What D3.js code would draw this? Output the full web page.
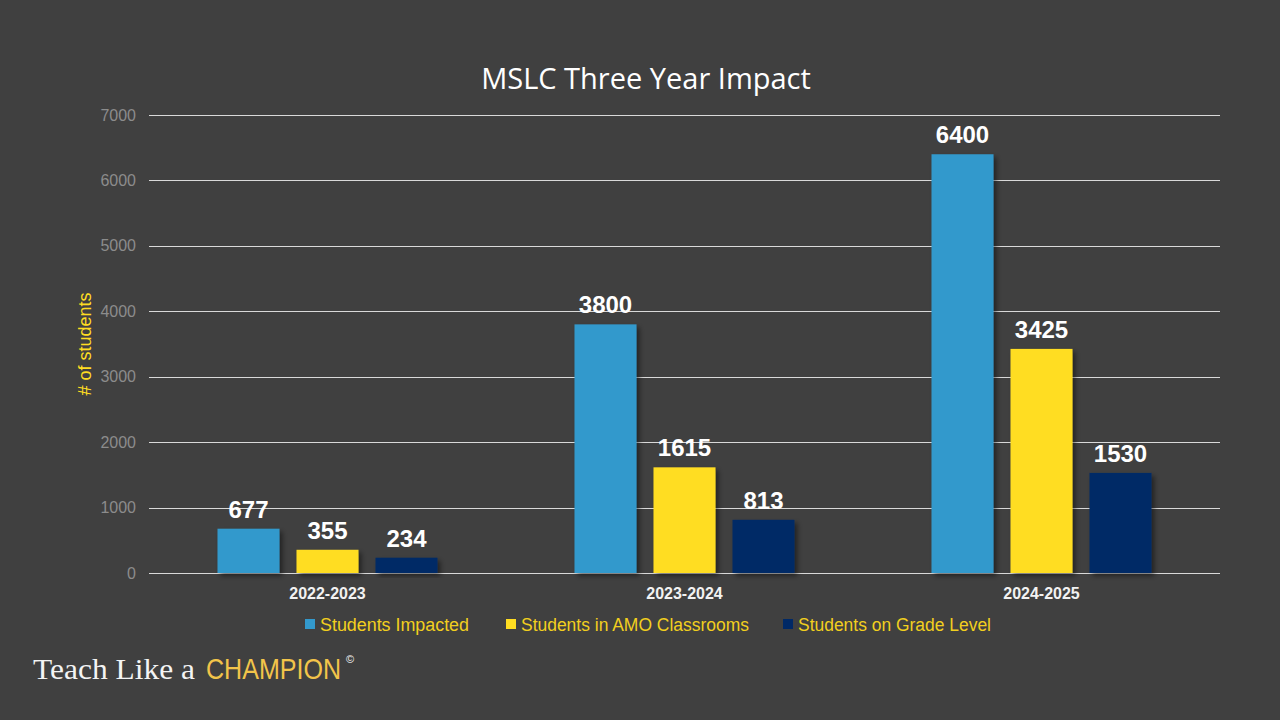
<!DOCTYPE html>
<html>
<head>
<meta charset="utf-8">
<script src="https://cdn.jsdelivr.net/npm/d3@7"></script>
<style>
  html, body { margin: 0; padding: 0; background: #404040; }
  svg { display: block; }
</style>
</head>
<body>
<div class="svg-container"></div>
<script>
// Data
const years = ['2022-2023', '2023-2024', '2024-2025'];
const seriesNames = ['Students Impacted', 'Students in AMO Classrooms', 'Students on Grade Level'];
const impacted = [677, 3800, 6400];
const amo = [355, 1615, 3425];
const gradeLevel = [234, 813, 1530];
const yTicks = [0, 1000, 2000, 3000, 4000, 5000, 6000, 7000];
const colors = ['#3399CC', '#FFDD22', '#002966'];

const W = 1280, H = 720;
const margin = {top: 115, right: 60, bottom: 147, left: 149};
const width = W - margin.left - margin.right;
const height = H - margin.top - margin.bottom;

const svg = d3.select('.svg-container')
    .append('svg')
    .attr('width', W)
    .attr('height', H);

svg.append('rect').attr('width', W).attr('height', H).attr('fill', '#404040');

const defs = svg.append('defs');
const shadow = defs.append('filter').attr('id', 'shadow')
    .attr('x', '-20%').attr('y', '-20%').attr('width', '150%').attr('height', '150%');
shadow.append('feDropShadow')
    .attr('dx', 3).attr('dy', 3).attr('stdDeviation', 2.5)
    .attr('flood-color', '#000').attr('flood-opacity', 0.45);

const g = svg.append('g')
    .attr('transform', `translate(${margin.left}, ${margin.top})`);

const x0 = d3.scaleBand().domain(years).range([0, width]).paddingInner(0).paddingOuter(0);
const x1 = d3.scaleBand().domain(seriesNames).range([0, 220]).paddingInner(0.215);
const y = d3.scaleLinear().domain([0, 7000]).range([height, 0]);

// gridlines
g.append('g')
  .selectAll('line')
  .data(yTicks)
  .enter().append('line')
    .attr('x1', 0).attr('x2', width)
    .attr('y1', d => Math.round(y(d)) + 0.5)
    .attr('y2', d => Math.round(y(d)) + 0.5)
    .attr('stroke', '#d9d9d9')
    .attr('stroke-width', 1);

// y axis labels
g.append('g')
  .selectAll('text')
  .data(yTicks)
  .enter().append('text')
    .attr('x', -13)
    .attr('y', d => y(d))
    .attr('dy', '0.35em')
    .attr('text-anchor', 'end')
    .attr('fill', '#8c8c8c')
    .style('font', '16px "Liberation Sans", Arial, sans-serif')
    .text(d => d);

// axis title
svg.append('text')
    .attr('transform', 'translate(91, 344) rotate(-90)')
    .attr('text-anchor', 'middle')
    .attr('fill', '#FFDD22')
    .style('font', '18px "Liberation Sans", Arial, sans-serif')
    .text('# of students');

const rows = years.map((yr, i) => ({
  year: yr,
  values: [impacted[i], amo[i], gradeLevel[i]]
}));

const groups = g.selectAll('.grp')
  .data(rows)
  .enter().append('g')
    .attr('class', 'grp')
    .attr('transform', d => `translate(${x0(d.year) + x0.bandwidth() / 2 - 110}, 0)`);

groups.selectAll('rect')
  .data(d => d.values.map((v, j) => ({name: seriesNames[j], value: v, j: j})))
  .enter().append('rect')
    .attr('x', d => x1(d.name))
    .attr('y', d => y(d.value))
    .attr('width', x1.bandwidth())
    .attr('height', d => y(0) - y(d.value))
    .attr('fill', d => colors[d.j])
    .attr('filter', 'url(#shadow)');

groups.selectAll('.lbl')
  .data(d => d.values.map((v, j) => ({name: seriesNames[j], value: v})))
  .enter().append('text')
    .attr('class', 'lbl')
    .attr('x', d => x1(d.name) + x1.bandwidth() / 2)
    .attr('y', d => y(d.value) - 11)
    .attr('text-anchor', 'middle')
    .attr('fill', '#ffffff')
    .style('font', 'bold 24px "Liberation Sans", Arial, sans-serif')
    .text(d => d.value);

// category labels
g.append('g')
  .selectAll('text')
  .data(years)
  .enter().append('text')
    .attr('x', d => x0(d) + x0.bandwidth() / 2)
    .attr('y', height + 26)
    .attr('text-anchor', 'middle')
    .attr('fill', '#f2f2f2')
    .style('font', 'bold 16px "Liberation Sans", Arial, sans-serif')
    .text(d => d);

// title
svg.append('text')
    .attr('x', 646)
    .attr('y', 89)
    .attr('text-anchor', 'middle')
    .attr('fill', '#ffffff')
    .style('font', '29px "Open Sans", "Noto Sans", sans-serif')
    .text('MSLC Three Year Impact');

// legend
const legendX = [305, 506, 783];
const legendW = [149, 228, 193];
const legend = svg.selectAll('.legend')
  .data(seriesNames)
  .enter().append('g')
    .attr('class', 'legend')
    .attr('transform', (d, i) => `translate(${legendX[i]}, 625)`);

legend.append('rect')
    .attr('x', 0).attr('y', -6)
    .attr('width', 10).attr('height', 10)
    .attr('fill', (d, i) => colors[i]);

legend.append('text')
    .attr('x', 15)
    .attr('y', 0)
    .attr('dy', '0.35em')
    .attr('fill', '#F2CF1E')
    .attr('textLength', (d, i) => legendW[i])
    .attr('lengthAdjust', 'spacingAndGlyphs')
    .style('font', '18px "Liberation Sans", Arial, sans-serif')
    .text(d => d);

// logo
svg.append('text')
    .attr('x', 33)
    .attr('y', 679)
    .attr('textLength', 162)
    .attr('lengthAdjust', 'spacingAndGlyphs')
    .attr('fill', '#f4f4f4')
    .style('font', '29px "Liberation Serif", "DejaVu Serif", serif')
    .text('Teach Like a');
svg.append('g')
    .attr('transform', 'translate(206, 679) scale(0.865, 1)')
  .append('text')
    .attr('x', 0)
    .attr('y', 0)
    .attr('fill', '#F2C44A')
    .style('font', '29px "Liberation Sans", Arial, sans-serif')
    .text('CHAMPION');
svg.append('text')
    .attr('x', 346)
    .attr('y', 663)
    .attr('fill', '#f4f4f4')
    .style('font', '11px "Liberation Sans", sans-serif')
    .text('©');
</script>
</body>
</html>
